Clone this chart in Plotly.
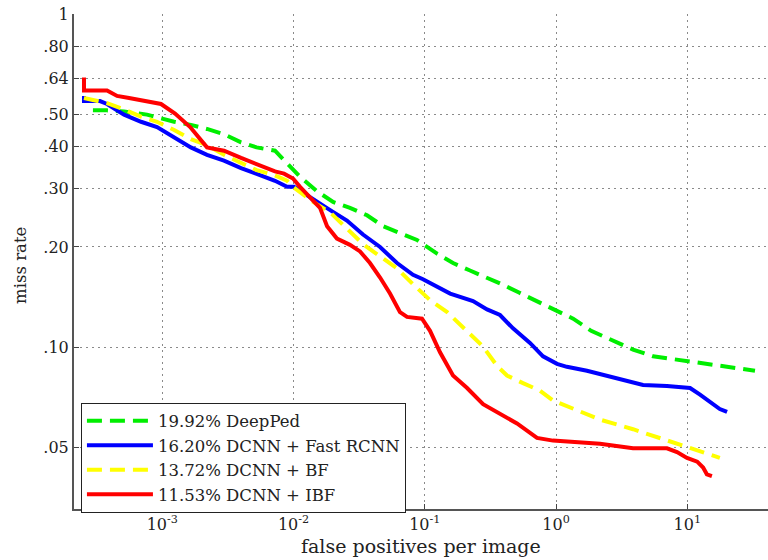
import plotly.graph_objects as go

# ---- data (false positives per image vs miss rate) ----
deepped_fppi = [2.96e-4, 3.79e-4, 5.11e-4, 7.64e-4, 1.23e-3, 1.65e-3, 2.19e-3, 2.95e-3, 3.98e-3,
                5.23e-3, 7.22e-3, 8.46e-3, 1.008e-2, 1.12e-2, 1.51e-2, 2.00e-2, 2.69e-2, 3.63e-2,
                4.80e-2, 6.47e-2, 8.72e-2, 0.124, 0.164, 0.221, 0.298, 0.387, 0.522, 0.716, 0.948,
                1.35, 1.85, 2.62, 3.86, 5.48, 7.78, 9.95, 14.4, 20.1, 32.8]
deepped_mr = [0.514, 0.514, 0.510, 0.499, 0.475, 0.465, 0.452, 0.436, 0.412,
              0.398, 0.389, 0.365, 0.340, 0.325, 0.294, 0.273, 0.262, 0.249,
              0.231, 0.220, 0.210, 0.191, 0.179, 0.170, 0.162, 0.1546, 0.146, 0.1377, 0.130,
              0.1219, 0.1121, 0.1051, 0.0985, 0.0940, 0.0922, 0.0906, 0.0892, 0.0874, 0.0851]

frcnn_fppi = [2.53e-4, 2.53e-4, 3.35e-4, 3.79e-4, 5.11e-4, 6.88e-4, 9.11e-4, 1.23e-3, 1.65e-3,
              2.19e-3, 2.95e-3, 3.98e-3, 5.23e-3, 7.22e-3, 8.92e-3, 1.008e-2, 1.90e-2, 2.55e-2,
              3.38e-2, 4.56e-2, 6.14e-2, 8.13e-2, 9.69e-2, 0.156, 0.233, 0.298, 0.374, 0.470,
              0.633, 0.796, 1.017, 1.21, 1.72, 2.44, 3.47, 4.60, 7.00, 10.5, 12.5, 14.9, 17.7, 20.1]
frcnn_mr = [0.568, 0.548, 0.548, 0.537, 0.499, 0.475, 0.458, 0.427, 0.398,
            0.378, 0.363, 0.345, 0.332, 0.316, 0.303, 0.303, 0.258, 0.240,
            0.218, 0.200, 0.179, 0.165, 0.160, 0.145, 0.1377, 0.130, 0.125, 0.114,
            0.1031, 0.0940, 0.0892, 0.0874, 0.0851, 0.0823, 0.0797, 0.0771, 0.0766, 0.0755,
            0.0721, 0.0684, 0.0653, 0.0640]

bf_fppi = [2.53e-4, 3.79e-4, 5.11e-4, 6.88e-4, 9.11e-4, 1.23e-3, 1.65e-3, 2.19e-3, 2.95e-3,
           3.98e-3, 5.23e-3, 7.22e-3, 8.92e-3, 9.90e-3, 1.41e-2, 1.90e-2, 2.55e-2, 3.38e-2,
           4.56e-2, 6.14e-2, 8.13e-2, 0.1096, 0.148, 0.210, 0.278, 0.355, 0.423, 0.560,
           0.755, 0.948, 1.35, 2.16, 3.86, 6.53, 9.95, 17.7]
bf_mr = [0.560, 0.540, 0.517, 0.492, 0.475, 0.449, 0.421, 0.404, 0.378,
         0.357, 0.340, 0.328, 0.316, 0.303, 0.273, 0.254, 0.226, 0.204,
         0.1875, 0.1725, 0.1546, 0.1386, 0.1275, 0.1121, 0.1005, 0.0880, 0.0823, 0.0781,
         0.0741, 0.0693, 0.0653, 0.0607, 0.0568, 0.0531, 0.0501, 0.0466]

ibf_fppi = [2.53e-4, 2.53e-4, 3.79e-4, 4.52e-4, 5.58e-4, 7.38e-4, 9.77e-4, 1.25e-3, 1.63e-3,
            2.19e-3, 2.95e-3, 3.98e-3, 5.65e-3, 7.22e-3, 8.46e-3, 9.90e-3, 1.12e-2, 1.33e-2,
            1.59e-2, 1.80e-2, 2.14e-2, 2.69e-2, 3.21e-2, 3.82e-2, 4.56e-2, 5.43e-2, 6.47e-2,
            7.32e-2, 9.52e-2, 0.1096, 0.1306, 0.164, 0.210, 0.278, 0.355, 0.504, 0.716, 0.948,
            2.16, 3.86, 7.00, 8.35, 9.95, 11.9, 13.2, 14.1, 15.4]
ibf_mr = [0.645, 0.590, 0.590, 0.568, 0.560, 0.548, 0.537, 0.503, 0.458,
          0.398, 0.389, 0.370, 0.350, 0.337, 0.332, 0.321, 0.303, 0.282,
          0.262, 0.231, 0.212, 0.203, 0.194, 0.179, 0.162, 0.145, 0.1275,
          0.1234, 0.1219, 0.1121, 0.0966, 0.0823, 0.0755, 0.0675, 0.0640, 0.0591, 0.0535, 0.0525,
          0.0514, 0.0498, 0.0498, 0.0485, 0.0466, 0.0454, 0.0436, 0.0416, 0.0411]

series_names = ["19.92% DeepPed", "16.20% DCNN + Fast RCNN", "13.72% DCNN + BF", "11.53% DCNN + IBF"]

y_tickvals = [0.05, 0.10, 0.20, 0.30, 0.40, 0.50, 0.64, 0.80, 1.0]
y_ticktext = [".05", ".10", ".20", ".30", ".40", ".50", ".64", ".80", "1"]
x_tickvals = [1e-3, 1e-2, 1e-1, 1e0, 1e1]
x_ticktext = ["10<sup>-3</sup>", "10<sup>-2</sup>", "10<sup>-1</sup>", "10<sup>0</sup>", "10<sup>1</sup>"]

FONT = "DejaVu Serif"
TXT = "#222222"

fig = go.Figure()
styles = [
    (deepped_fppi, deepped_mr, "#00ee00", "15px,8px"),
    (frcnn_fppi, frcnn_mr, "#0000ff", "solid"),
    (bf_fppi, bf_mr, "#ffff00", "15px,8px"),
    (ibf_fppi, ibf_mr, "#ff0000", "solid"),
]
for (xs, ys, col, dash), name in zip(styles, series_names):
    fig.add_trace(go.Scatter(x=xs, y=ys, mode="lines", name=name,
                             line=dict(color=col, width=4, dash=dash)))

fig.update_layout(
    width=768, height=560,
    margin=dict(l=74, r=0, t=14, b=51),
    paper_bgcolor="white", plot_bgcolor="white",
    font=dict(family=FONT, size=16, color=TXT),
    showlegend=True,
    legend=dict(x=0.01, y=0.215, xanchor="left", yanchor="top",
                bgcolor="white", bordercolor=TXT, borderwidth=1,
                font=dict(family=FONT, size=16.5, color=TXT),
                itemwidth=66, tracegroupgap=0),
    annotations=[
        dict(text="false positives per image", xref="paper", yref="paper",
             x=0.5, y=-0.075, xanchor="center", yanchor="middle", showarrow=False,
             font=dict(family=FONT, size=19, color=TXT)),
        dict(text="miss rate", xref="paper", yref="paper", textangle=-90,
             x=-0.0764, y=0.493, xanchor="center", yanchor="middle", showarrow=False,
             font=dict(family=FONT, size=16.5, color=TXT)),
    ],
)
fig.update_xaxes(
    type="log", range=[-3.673, 1.615],
    tickvals=x_tickvals, ticktext=x_ticktext,
    ticks="inside", ticklen=5, tickcolor="#444444",
    showline=True, linecolor="#555555", linewidth=2,
    showgrid=True, gridcolor="#8a8a8a", griddash="2px,4px", gridwidth=1,
    zeroline=False,
    tickfont=dict(family=FONT, size=16, color=TXT),
)
fig.update_yaxes(
    type="log", range=[-1.485, 0],
    tickvals=y_tickvals, ticktext=y_ticktext,
    ticks="inside", ticklen=5, tickcolor="#444444",
    showline=True, linecolor="#555555", linewidth=2,
    showgrid=True, gridcolor="#8a8a8a", griddash="2px,4px", gridwidth=1,
    zeroline=False,
    tickfont=dict(family=FONT, size=16, color=TXT),
)

fig.write_html("out.html", config={"displayModeBar": False},
               post_script="document.body.style.margin='0';")
